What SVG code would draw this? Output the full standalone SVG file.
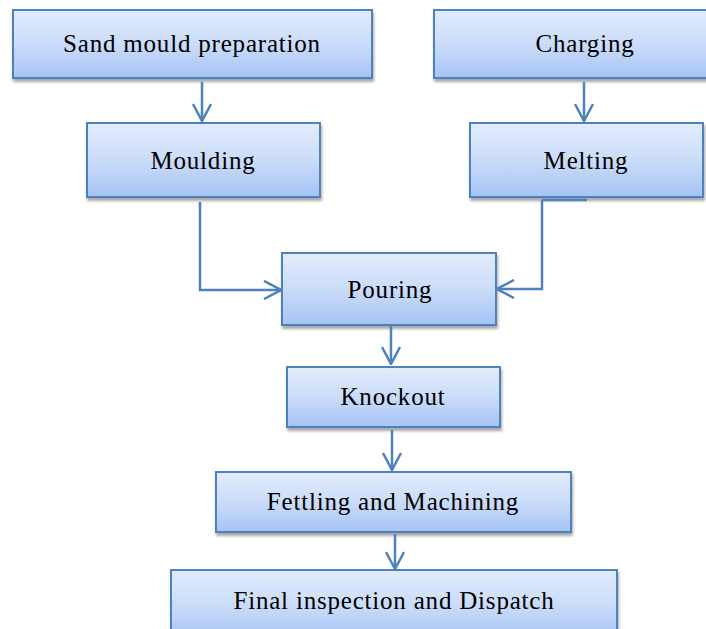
<svg xmlns="http://www.w3.org/2000/svg" width="706" height="629" viewBox="0 0 706 629">
<defs>
<linearGradient id="g" x1="0" y1="0" x2="0" y2="1">
<stop offset="0" stop-color="#e3ecfc"/>
<stop offset="0.5" stop-color="#cbdcfa"/>
<stop offset="1" stop-color="#a5c3f4"/>
</linearGradient>
<filter id="sh" x="-10%" y="-10%" width="130%" height="140%">
<feGaussianBlur in="SourceAlpha" stdDeviation="1.5"/>
<feOffset dx="1" dy="3" result="b"/>
<feComponentTransfer><feFuncA type="linear" slope="0.35"/></feComponentTransfer>
<feMerge><feMergeNode/><feMergeNode in="SourceGraphic"/></feMerge>
</filter>
<marker id="ah" viewBox="0 0 20 20" refX="19" refY="10" markerWidth="20" markerHeight="20" markerUnits="userSpaceOnUse" orient="auto">
<path d="M2,1 L19,10 L2,19" fill="none" stroke="#4f81bd" stroke-width="2.5"/>
</marker>
</defs>
<style>
.box{fill:url(#g);stroke:#4f81bd;stroke-width:2;filter:url(#sh)}
.lbl{font-family:"Liberation Serif","DejaVu Serif",serif;font-size:25px;letter-spacing:0.8px;fill:#000;text-anchor:middle}
.c{fill:none;stroke:#4f81bd;stroke-width:2.5;marker-end:url(#ah)}
</style>
<g id="n1"><rect class="box" x="13" y="10" width="359" height="68"/><text class="lbl" x="192" y="52">Sand mould preparation</text></g>
<g id="n2"><rect class="box" x="434" y="10" width="280" height="68"/><text class="lbl" x="585" y="52">Charging</text></g>
<g id="n3"><rect class="box" x="87" y="123" width="233" height="74"/><text class="lbl" x="203" y="169">Moulding</text></g>
<g id="n4"><rect class="box" x="470" y="123" width="233" height="74"/><text class="lbl" x="586" y="169">Melting</text></g>
<g id="n5"><rect class="box" x="282" y="253" width="214" height="72"/><text class="lbl" x="390" y="298">Pouring</text></g>
<g id="n6"><rect class="box" x="287" y="367" width="213" height="60"/><text class="lbl" x="393" y="405">Knockout</text></g>
<g id="n7"><rect class="box" x="216" y="472" width="355" height="60"/><text class="lbl" x="393" y="510">Fettling and Machining</text></g>
<g id="n8"><rect class="box" x="171" y="570" width="446" height="70"/><text class="lbl" x="394" y="609">Final inspection and Dispatch</text></g>
<g id="connectors">
<path class="c" d="M202,82 V121"/>
<path class="c" d="M584,82 V121"/>
<path class="c" d="M200,202 V290 H281"/>
<path d="M542,200 H587" fill="none" stroke="#4f81bd" stroke-width="2.5"/>
<path class="c" d="M542,200 V289 H497"/>
<path class="c" d="M391,326 V364"/>
<path class="c" d="M392,430 V470"/>
<path class="c" d="M395,534 V569"/>
</g>
</svg>
